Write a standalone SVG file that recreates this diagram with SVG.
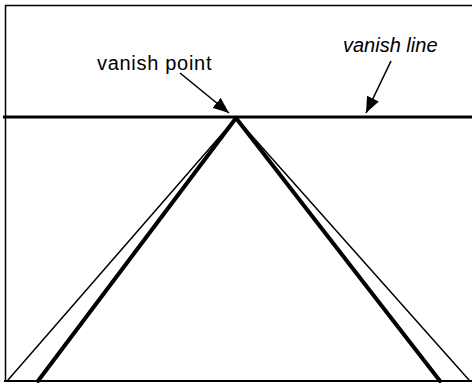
<svg xmlns="http://www.w3.org/2000/svg" width="472" height="384" viewBox="0 0 472 384">
<defs>
<marker id="ah" markerWidth="16" markerHeight="13" refX="16" refY="6.5" orient="auto" markerUnits="userSpaceOnUse" viewBox="0 0 16 13">
<path d="M0,0 L16,6.5 L0,13 z" fill="#000"/>
</marker>
<style>
.lbl{font-family:"Liberation Sans",Arial,sans-serif;font-size:20px;fill:#000}
.arr{stroke:#000;stroke-width:1.6;fill:none}
</style>
</defs>
<rect width="472" height="384" fill="#fff"/>
<g id="frame" fill="none" stroke="#000">
<path d="M472,5.5 H5.5 V381" stroke-width="1.5"/>
<line x1="4" y1="381" x2="472" y2="381" stroke-width="2"/>
</g>
<g id="vanish-line-node">
<line x1="3" y1="117" x2="472" y2="117" stroke="#000" stroke-width="3"/>
</g>
<g id="road" fill="none" stroke="#000" stroke-linecap="round">
<line x1="236" y1="118" x2="8" y2="380" stroke-width="1.5"/>
<line x1="236" y1="118" x2="38" y2="381" stroke-width="4"/>
<line x1="236" y1="118" x2="440" y2="381" stroke-width="4"/>
<line x1="236" y1="118" x2="469" y2="380" stroke-width="1.5"/>
</g>
<g id="label-vanish-point">
<text class="lbl" x="97" y="70" letter-spacing="0.7">vanish point</text>
</g>
<g id="label-vanish-line">
<text class="lbl" x="343" y="52" font-style="italic">vanish line</text>
</g>
<g id="connectors">
<line class="arr" x1="180" y1="73" x2="229" y2="113" marker-end="url(#ah)"/>
<line class="arr" x1="391" y1="61" x2="366" y2="113" marker-end="url(#ah)"/>
</g>
</svg>
